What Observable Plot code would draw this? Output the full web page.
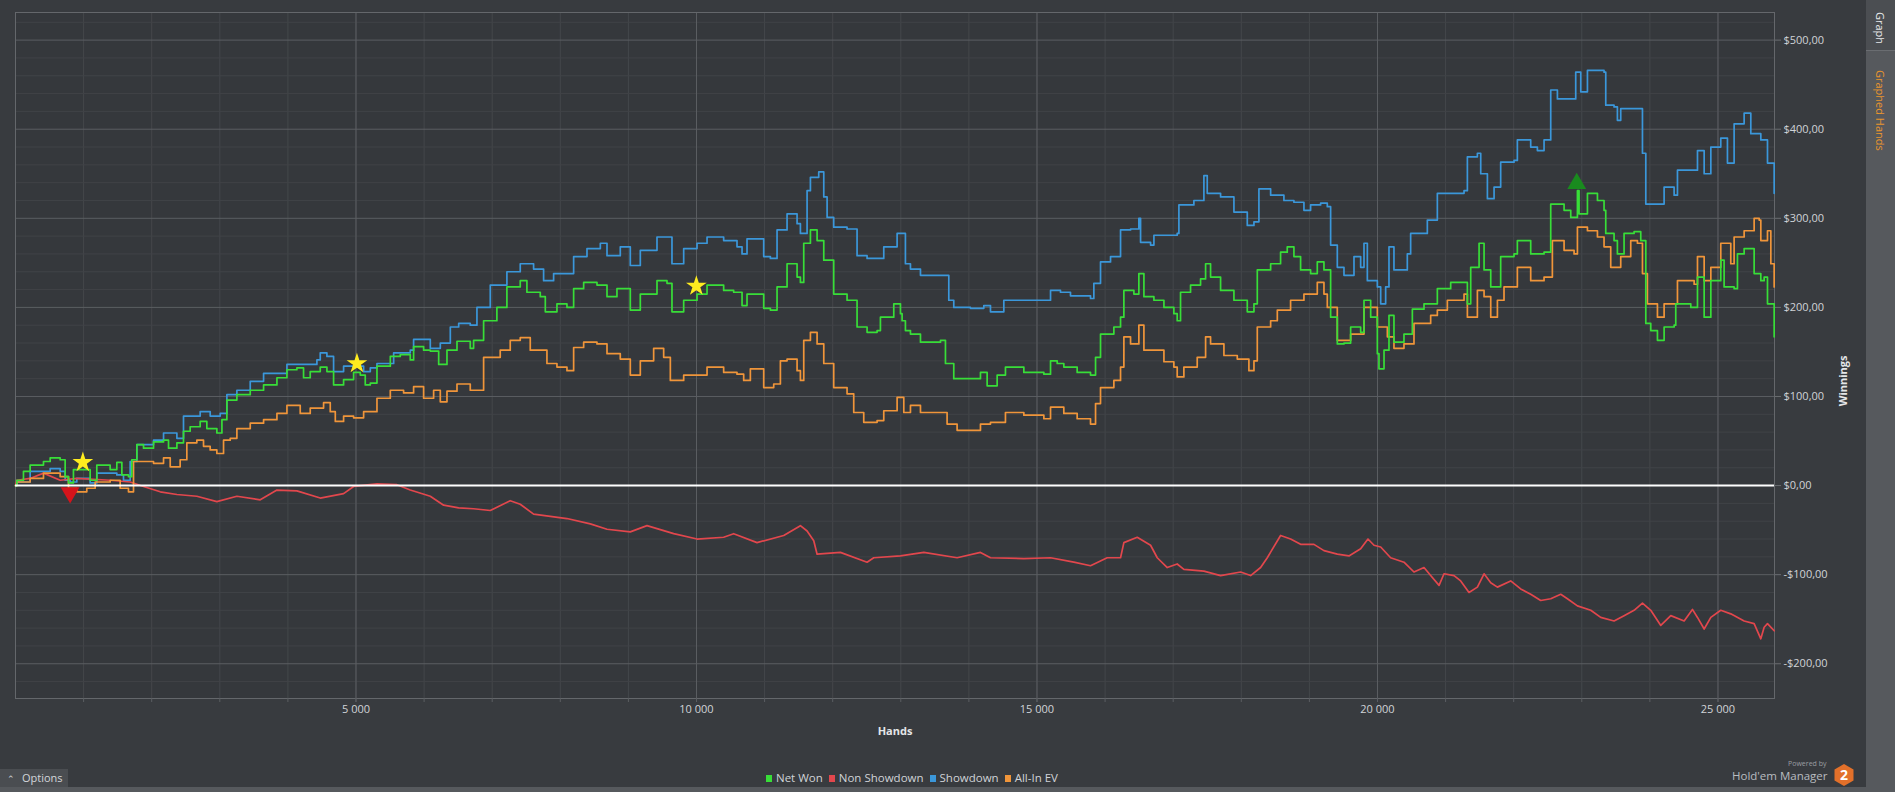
<!DOCTYPE html>
<html>
<head>
<meta charset="utf-8">
<script src="https://cdn.jsdelivr.net/npm/d3@7"></script>
<script src="https://cdn.jsdelivr.net/npm/@observablehq/plot@0.6"></script>
<style>
  html, body { margin: 0; padding: 0; width: 1895px; height: 792px; overflow: hidden; background: #383b3f; font-family: "Open Sans", "Noto Sans", sans-serif; }
  #chart { position: absolute; left: 0; top: 0; width: 1866px; height: 760px; }
  #sidebar { position: absolute; left: 1866px; top: 0; width: 29px; height: 792px; background: #56595d; }
  #sidebar .top { position: absolute; left: 0; top: 0; width: 29px; height: 50px; background: #4b4e52; border-bottom: 1px solid #6a6d71; }
  .vtext { position: absolute; writing-mode: vertical-rl; font-size: 11px; white-space: nowrap; }
  #bottomband { position: absolute; left: 0; top: 787px; width: 1866px; height: 5px; background: #56595d; }
  #options { position: absolute; left: 0; top: 769px; width: 68px; height: 18px; background: #4a4d51; color: #d3d6da; font-size: 11px; line-height: 18px; }
  #legend { position: absolute; left: 760px; top: 769px; height: 18px; font-size: 11.5px; color: #d0d3d7; line-height: 18px; white-space: nowrap; }
  #legend span.sw { display: inline-block; width: 6px; height: 7px; margin: 0 4px 0 6px; vertical-align: 0px; }
  #logo { position: absolute; left: 1728px; top: 758px; width: 130px; height: 30px; }
</style>
</head>
<body>
<div id="chart"></div>
<div id="sidebar">
  <div class="top"></div>
  <div class="vtext" style="left:7px; top:12px; color:#e6e8ea;">Graph</div>
  <div class="vtext" style="left:7px; top:70px; color:#e8952d;">Graphed Hands</div>
</div>
<div id="bottomband"></div>
<div id="options"><span style="margin-left:7px;font-size:9px;">&#8963;</span><span style="margin-left:7px;">Options</span></div>
<div id="legend"></div>
<div id="logo">
  <div style="position:absolute; left:60px; top:1px; font-size:7px; color:#9a9da1;">Powered by</div>
  <div style="position:absolute; left:4px; top:10px; font-size:11.5px; color:#b9bcc0;">Hold'em Manager</div>
  <svg style="position:absolute; left:104px; top:5px;" width="24" height="24" viewBox="0 0 24 24">
    <polygon points="12,1 21.5,6.5 21.5,17.5 12,23 2.5,17.5 2.5,6.5" fill="#e2702a"/>
    <text x="12" y="17" text-anchor="middle" font-size="14" font-weight="bold" fill="#ffffff" font-family="Open Sans">2</text>
  </svg>
</div>
<script>
// ---- Data (hands, winnings $) ----
const netWon = [[0,0],[19,6],[117,16],[215,23],[411,27],[509,31],[656,29],[729,10],[778,3],[851,18],[1047,18],[1096,6],[1194,23],[1390,18],[1488,26],[1562,12],[1659,10],[1708,29],[1782,46],[1880,42],[2027,49],[2174,51],[2247,42],[2370,48],[2467,61],[2565,66],[2712,72],[2810,64],[2957,59],[3031,74],[3104,96],[3251,102],[3447,107],[3643,113],[3839,121],[3986,130],[4132,132],[4230,121],[4328,128],[4475,133],[4573,128],[4671,113],[4818,119],[4965,127],[5063,124],[5136,113],[5210,115],[5308,134],[5504,145],[5650,147],[5797,141],[5846,156],[5993,152],[6091,151],[6214,136],[6336,152],[6483,162],[6678,154],[6727,163],[6874,185],[7069,200],[7216,223],[7412,230],[7510,217],[7706,212],[7780,195],[7951,204],[8098,200],[8196,221],[8343,228],[8539,225],[8686,212],[8832,221],[9028,197],[9175,215],[9420,230],[9567,227],[9640,195],[9812,208],[10008,215],[10155,225],[10399,219],[10546,217],[10669,202],[10742,215],[10987,199],[11085,197],[11183,223],[11330,249],[11477,234],[11526,228],[11575,272],[11673,287],[11771,275],[11869,253],[12015,215],[12211,208],[12358,178],[12505,172],[12652,174],[12701,189],[12897,204],[12995,193],[13019,185],[13068,174],[13142,170],[13289,161],[13583,163],[13656,137],[13778,120],[14023,120],[14170,127],[14268,112],[14415,124],[14537,133],[14807,127],[15101,125],[15199,140],[15297,137],[15394,133],[15590,127],[15786,124],[15860,144],[15933,170],[16129,178],[16227,189],[16276,219],[16423,215],[16496,238],[16570,212],[16717,208],[16864,200],[17010,193],[17059,185],[17108,217],[17255,225],[17402,232],[17476,249],[17549,234],[17696,219],[17892,208],[18088,195],[18186,204],[18235,242],[18431,249],[18577,262],[18675,268],[18773,257],[18871,242],[19018,238],[19116,251],[19214,242],[19312,189],[19410,159],[19508,160],[19606,178],[19753,172],[19802,208],[19900,189],[19998,148],[20022,131],[20096,152],[20169,191],[20242,161],[20389,170],[20512,198],[20683,204],[20879,221],[21075,228],[21271,228],[21320,204],[21369,245],[21492,272],[21565,242],[21663,223],[21809,257],[22005,260],[22054,275],[22250,260],[22446,262],[22544,316],[22740,309],[22838,301],[22936,331],[22960,305],[23083,328],[23230,320],[23327,309],[23352,283],[23474,275],[23523,260],[23621,283],[23768,285],[23866,275],[23940,182],[24013,174],[24111,163],[24209,178],[24356,180],[24380,204],[24601,200],[24699,234],[24797,189],[24895,230],[25041,253],[25090,223],[25237,221],[25286,260],[25384,266],[25531,238],[25629,230],[25678,234],[25727,204],[25825,167]];

const showdown = [[0,0],[19,4],[215,16],[509,19],[656,16],[729,6],[802,4],[900,8],[1096,3],[1194,14],[1488,12],[1586,6],[1684,27],[1782,46],[2027,51],[2174,59],[2370,53],[2467,78],[2614,78],[2712,83],[2859,78],[3006,81],[3104,102],[3251,107],[3447,117],[3643,126],[3839,126],[3986,136],[4230,136],[4426,141],[4475,149],[4573,145],[4671,128],[4818,134],[4965,134],[5112,128],[5210,132],[5308,137],[5553,149],[5797,152],[5846,164],[6091,154],[6238,160],[6385,178],[6508,182],[6678,180],[6776,200],[6972,225],[7216,240],[7412,249],[7608,243],[7755,230],[7902,238],[8098,238],[8196,257],[8392,266],[8588,272],[8686,258],[8881,268],[9028,247],[9175,264],[9420,279],[9567,279],[9640,249],[9812,266],[10008,272],[10155,279],[10399,275],[10595,268],[10669,260],[10742,277],[10987,257],[11085,255],[11183,287],[11330,305],[11477,294],[11526,283],[11624,331],[11673,346],[11795,352],[11869,324],[11918,301],[12015,290],[12211,288],[12358,258],[12505,255],[12652,255],[12750,268],[12946,283],[13068,249],[13142,243],[13289,236],[13583,236],[13705,208],[13778,200],[14023,199],[14219,202],[14317,195],[14513,208],[14807,208],[15150,208],[15199,219],[15345,217],[15492,213],[15786,210],[15835,227],[15933,251],[16080,257],[16227,287],[16374,288],[16496,300],[16521,273],[16668,270],[16717,281],[16961,281],[17059,283],[17084,315],[17304,320],[17451,348],[17500,328],[17696,324],[17892,307],[18088,292],[18186,296],[18259,333],[18431,326],[18626,320],[18773,318],[18920,309],[19018,315],[19165,317],[19263,313],[19312,270],[19410,245],[19508,236],[19655,257],[19753,245],[19802,272],[19851,230],[19998,223],[20047,204],[20120,223],[20169,268],[20242,242],[20438,260],[20487,283],[20732,298],[20879,328],[21075,328],[21271,331],[21320,369],[21467,373],[21516,350],[21614,322],[21712,335],[21809,363],[22005,365],[22054,388],[22250,380],[22348,376],[22446,388],[22544,444],[22642,434],[22838,434],[22911,464],[22985,442],[23083,466],[23230,466],[23327,464],[23352,427],[23474,425],[23523,410],[23572,423],[23817,423],[23891,373],[23940,316],[24160,316],[24209,335],[24356,326],[24405,354],[24650,354],[24699,376],[24797,350],[24895,380],[25041,390],[25139,362],[25237,406],[25384,418],[25482,395],[25629,388],[25727,362],[25825,328]];

const allInEV = [[0,0],[19,4],[215,8],[411,14],[656,10],[778,-3],[900,-7],[1047,-3],[1170,4],[1390,6],[1537,-3],[1659,-7],[1733,27],[1880,27],[2027,25],[2174,31],[2272,21],[2418,29],[2516,48],[2663,51],[2761,44],[2859,40],[2957,36],[3055,51],[3153,53],[3251,64],[3447,70],[3643,74],[3839,81],[3986,90],[4181,81],[4328,87],[4524,93],[4622,83],[4696,72],[4818,78],[4965,76],[5112,83],[5259,83],[5308,98],[5504,107],[5699,104],[5846,111],[5993,98],[6140,107],[6238,94],[6336,106],[6483,114],[6678,107],[6874,144],[7118,152],[7265,163],[7412,166],[7559,152],[7804,137],[7951,133],[8098,129],[8196,155],[8343,161],[8539,159],[8686,148],[8881,142],[9028,124],[9175,140],[9371,154],[9518,144],[9616,118],[9812,124],[10008,124],[10155,133],[10399,127],[10595,125],[10693,118],[10791,131],[10987,110],[11134,114],[11232,140],[11330,142],[11477,129],[11526,118],[11575,163],[11673,172],[11771,159],[11869,137],[12015,110],[12211,103],[12309,82],[12456,71],[12652,73],[12750,84],[12946,99],[13044,82],[13142,90],[13289,82],[13583,82],[13680,69],[13827,62],[14023,62],[14170,69],[14317,71],[14537,82],[14807,79],[15101,75],[15199,88],[15394,81],[15590,75],[15786,69],[15860,92],[15933,110],[16129,118],[16227,133],[16276,167],[16374,159],[16496,180],[16570,152],[16717,152],[16864,139],[17010,133],[17059,122],[17157,133],[17353,144],[17476,167],[17549,159],[17745,146],[17941,142],[18112,129],[18186,140],[18235,178],[18431,185],[18529,197],[18724,208],[18920,215],[19116,228],[19214,215],[19263,200],[19410,163],[19557,163],[19606,170],[19802,200],[19998,178],[20145,167],[20242,154],[20389,159],[20536,182],[20781,191],[20879,197],[21026,208],[21271,215],[21320,189],[21467,219],[21565,212],[21663,189],[21761,208],[21858,223],[22054,245],[22250,230],[22446,234],[22568,275],[22740,264],[22887,260],[22936,290],[23083,286],[23230,279],[23327,268],[23425,245],[23572,257],[23719,275],[23817,272],[23891,238],[23964,204],[24111,189],[24209,204],[24356,204],[24405,230],[24650,226],[24699,257],[24797,230],[24895,245],[25041,272],[25188,249],[25237,279],[25384,286],[25531,300],[25605,298],[25629,275],[25727,286],[25776,249],[25825,223]];

const nonShowdown = [[0,0],[19,6],[215,8],[411,14],[656,6],[900,8],[1390,6],[1684,4],[1880,-1],[2125,-7],[2370,-10],[2663,-12],[2957,-18],[3251,-12],[3594,-16],[3839,-5],[4132,-6],[4475,-14],[4818,-9],[4965,-1],[5308,2],[5601,1],[5797,-5],[6091,-12],[6287,-22],[6508,-25],[6727,-26],[6972,-28],[7265,-17],[7412,-21],[7608,-32],[8098,-37],[8441,-43],[8686,-49],[9028,-52],[9273,-45],[9665,-54],[10008,-60],[10399,-58],[10546,-54],[10889,-64],[11281,-56],[11526,-45],[11624,-51],[11722,-62],[11771,-77],[12113,-75],[12505,-86],[12603,-81],[12995,-79],[13338,-75],[13827,-81],[14170,-75],[14317,-81],[14807,-82],[15199,-81],[15541,-86],[15786,-90],[16031,-81],[16227,-81],[16276,-64],[16472,-58],[16668,-67],[16766,-81],[16913,-92],[17059,-88],[17157,-94],[17451,-96],[17696,-101],[17990,-97],[18137,-101],[18284,-92],[18382,-81],[18577,-56],[18724,-60],[18871,-66],[19067,-66],[19214,-73],[19410,-77],[19581,-79],[19753,-71],[19860,-60],[19949,-67],[20047,-69],[20193,-81],[20389,-86],[20536,-97],[20683,-92],[20781,-101],[20904,-112],[20977,-99],[21124,-101],[21222,-107],[21344,-120],[21467,-114],[21565,-99],[21663,-109],[21761,-114],[21956,-107],[22103,-116],[22250,-122],[22397,-129],[22544,-127],[22691,-122],[22789,-127],[22936,-135],[23132,-140],[23278,-148],[23474,-152],[23621,-146],[23768,-140],[23891,-132],[24013,-140],[24160,-157],[24307,-146],[24503,-152],[24625,-139],[24699,-148],[24797,-161],[24895,-148],[25041,-140],[25188,-144],[25384,-152],[25531,-155],[25629,-172],[25678,-159],[25727,-155],[25825,-163]];

// milestone markers
const starMarkers = [[989,26],[5014,137],[9998,224]];
const lowMarker = [[802,-8]];
const highMarker = [[22926,339]];

// axis ticks
const xTicks = [5000, 10000, 15000, 20000, 25000];
const yTicks = [-200, -100, 0, 100, 200, 300, 400, 500];

const seriesNames = ["Net Won", "Non Showdown", "Showdown", "All-In EV"];
const seriesColors = ["#38de38", "#e2474d", "#3b97da", "#f0953a"];

// ---- build ----
const toRows = (arr, name) => arr.map(([h, v]) => ({hands: h, value: v, series: name}));
const xMinor = d3.range(1000, 26000, 1000);
const yMinor = d3.range(-220, 531, 20).filter(v => v % 100 !== 0);

const money = v => (v < 0 ? "-" : "") + "$" + Math.abs(v).toFixed(2).replace(".", ",");
const hands = v => d3.format(",")(v).replace(/,/g, " ");
const col = name => seriesColors[seriesNames.indexOf(name)];
const seriesLine = (arr, name, curve) =>
  Plot.line(toRows(arr, name), {x: "hands", y: "value", stroke: col(name), strokeWidth: 1.7, curve});

const chart = Plot.plot({
  width: 1866,
  height: 760,
  marginLeft: 15,
  marginRight: 92,
  marginTop: 12,
  marginBottom: 62,
  style: {background: "transparent", color: "#d0d3d7", fontFamily: "Open Sans, Noto Sans, sans-serif", fontSize: "11px"},
  x: {domain: [0, 25830]},
  y: {domain: [-239, 531]},
  marks: [
    Plot.frame({fill: "#35383c", stroke: null}),
    Plot.ruleX(xMinor, {stroke: "#44474b", strokeWidth: 1}),
    Plot.ruleY(yMinor, {stroke: "#404347", strokeWidth: 1}),
    Plot.ruleX(xTicks, {stroke: "#5b5e62", strokeWidth: 1}),
    Plot.ruleY(yTicks.filter(v => v !== 0), {stroke: "#5b5e62", strokeWidth: 1}),
    Plot.frame({stroke: "#64676b"}),
    Plot.axisX(xMinor, {tickSize: 4, tickFormat: () => "", stroke: "#5b5e62", label: null}),
    Plot.axisX(xTicks, {tickSize: 4, tickPadding: 3, tickFormat: hands, stroke: "#5b5e62", fill: "#d0d3d7", label: null}),
    Plot.axisY(yTicks, {anchor: "right", tickSize: 6, tickPadding: 3, tickFormat: money, stroke: "#6a6d71", fill: "#d0d3d7", label: null}),
    Plot.text(["Hands"], {frameAnchor: "bottom", dy: 36, fontWeight: "bold", fill: "#e4e6e8", fontSize: 11}),
    Plot.text(["Winnings"], {frameAnchor: "right", dx: 69, rotate: -90, fontWeight: "bold", fill: "#e4e6e8", fontSize: 11}),
    seriesLine(showdown, "Showdown", "step-after"),
    seriesLine(nonShowdown, "Non Showdown", "linear"),
    seriesLine(allInEV, "All-In EV", "step-after"),
    seriesLine(netWon, "Net Won", "step-after"),
    Plot.ruleY([0], {stroke: "#ffffff", strokeWidth: 2}),
    Plot.dot(starMarkers, {x: d => d[0], y: d => d[1], symbol: "star", r: 6.5, fill: "#ffec1f", stroke: null}),
    Plot.dot(lowMarker, {x: d => d[0], y: d => d[1], symbol: "triangle", rotate: 180, r: 7, fill: "#d4141b", stroke: null}),
    Plot.dot(highMarker, {x: d => d[0], y: d => d[1], symbol: "triangle", r: 7, fill: "#198a1e", stroke: null})
  ]
});
document.getElementById("chart").appendChild(chart);

// legend
const legend = document.getElementById("legend");
seriesNames.forEach((name, i) => {
  const sw = document.createElement("span");
  sw.className = "sw";
  sw.style.background = seriesColors[i];
  legend.appendChild(sw);
  legend.appendChild(document.createTextNode(name));
});
</script>
</body>
</html>
